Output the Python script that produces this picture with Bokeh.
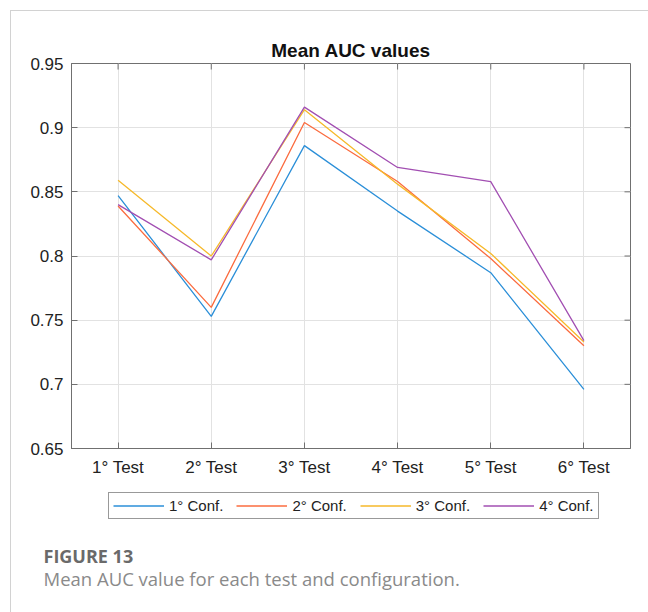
import math
from bokeh.plotting import figure
from bokeh.layouts import column
from bokeh.models import FactorRange, Range1d, FixedTicker, Legend, LegendItem, Label
from bokeh.embed import file_html
from bokeh.resources import INLINE

# Test sessions along the x axis
tests = ["1° Test", "2° Test", "3° Test", "4° Test", "5° Test", "6° Test"]

# Mean AUC per test, one list per configuration
conf1 = [0.847, 0.753, 0.886, 0.835, 0.787, 0.696]
conf2 = [0.839, 0.760, 0.904, 0.858, 0.798, 0.730]
conf3 = [0.859, 0.800, 0.914, 0.856, 0.802, 0.733]
conf4 = [0.840, 0.797, 0.916, 0.869, 0.858, 0.734]

series_names = ["1° Conf.", "2° Conf.", "3° Conf.", "4° Conf."]
series_values = [conf1, conf2, conf3, conf4]
series_colors = ["#2b8fd8", "#fb6c3f", "#f6b92a", "#a24fb2"]

y_ticks = [0.65, 0.7, 0.75, 0.8, 0.85, 0.9, 0.95]

FONT = "Liberation Sans"
TEXT = "#222222"
FRAME = "#707070"
GRID = "#e2e2e2"
CARD = "#d2d2d2"

# ---- main chart ----
p = figure(width=638, height=472, output_backend="svg", toolbar_location=None,
           x_range=FactorRange(factors=tests), y_range=Range1d(0.65, 0.95),
           min_border_left=60, min_border_right=19, min_border_top=52, min_border_bottom=35,
           outline_line_color=FRAME, outline_line_width=1, frame_align=False,
           background_fill_color="white", border_fill_color="white")

p.title.text = "Mean AUC values"
p.title.align = "center"
p.title.text_font = FONT
p.title.text_font_size = "19px"
p.title.text_font_style = "bold"
p.title.text_color = "#111111"
p.title.standoff = 6

p.xaxis.major_label_text_font = FONT
p.xaxis.major_label_text_font_size = "17px"
p.xaxis.major_label_text_color = TEXT
p.xaxis.major_tick_in = 6
p.xaxis.major_tick_out = 0
p.xaxis.major_tick_line_color = FRAME
p.xaxis.axis_line_color = FRAME
p.xaxis.major_label_standoff = 9

p.yaxis.ticker = FixedTicker(ticks=y_ticks)
p.yaxis.major_label_overrides = {v: f"{v:g}" for v in y_ticks}
p.yaxis.major_label_text_font = FONT
p.yaxis.major_label_text_font_size = "17px"
p.yaxis.major_label_text_color = TEXT
p.yaxis.major_tick_in = 6
p.yaxis.major_tick_out = 0
p.yaxis.minor_tick_line_color = None
p.yaxis.major_tick_line_color = FRAME
p.yaxis.axis_line_color = FRAME
p.yaxis.major_label_standoff = 8

p.xgrid.grid_line_color = GRID
p.ygrid.grid_line_color = GRID
p.ygrid.ticker = FixedTicker(ticks=y_ticks)

# Mirrored tick marks on the top and right edges of the box
p.ray(x=tests, y=[y_ticks[-1]] * len(tests), length=6, length_units="screen",
      angle=-math.pi / 2, line_color=FRAME, line_width=1)
p.ray(x=[(tests[-1], 0.5)] * len(y_ticks), y=y_ticks, length=6, length_units="screen",
      angle=math.pi, line_color=FRAME, line_width=1)

for vals, col in zip(series_values, series_colors):
    p.line(x=tests, y=vals, line_color=col, line_width=1.3)

# ---- legend and caption strip ----
# The y range sits far from the AUC values, so the series only feed the legend swatches.
q = figure(width=638, height=130, output_backend="svg", toolbar_location=None,
           x_range=FactorRange(factors=tests), y_range=Range1d(10, 11),
           x_axis_type=None, y_axis_type=None, frame_align=False,
           min_border=0, min_border_left=0, min_border_right=0,
           min_border_top=0, min_border_bottom=0, outline_line_color=None,
           background_fill_color="white", border_fill_color="white")
q.grid.visible = False

items = []
for name, vals, col in zip(series_names, series_values, series_colors):
    r = q.line(x=tests, y=vals, line_color=col, line_width=1.3)
    items.append(LegendItem(label=name, renderers=[r]))

legend = Legend(items=items, orientation="horizontal", location=(97, 94),
                label_text_font=FONT, label_text_font_size="15px", label_text_color=TEXT,
                glyph_width=51, glyph_height=15, label_height=15, label_standoff=5,
                spacing=13, padding=4, margin=0,
                border_line_color="#333333", border_line_width=1,
                background_fill_color="white", background_fill_alpha=1)
q.add_layout(legend, "center")

q.add_layout(Label(x=32, y=58, x_units="screen", y_units="screen", text="FIGURE 13",
                   text_font="Open Sans", text_font_size="18px", text_font_style="bold",
                   text_color="#6a6a6a", text_align="left", text_baseline="alphabetic"))
q.add_layout(Label(x=32, y=35, x_units="screen", y_units="screen",
                   text="Mean AUC value for each test and configuration.",
                   text_font="Open Sans", text_font_size="18.5px",
                   text_color="#8a8a8a", text_align="left", text_baseline="alphabetic"))

page = column(p, q, spacing=0, margin=(10, 0, 0, 10),
              styles={"border-top": f"1px solid {CARD}", "border-left": f"1px solid {CARD}"})

open("out.html", "w").write(file_html(page, INLINE))
